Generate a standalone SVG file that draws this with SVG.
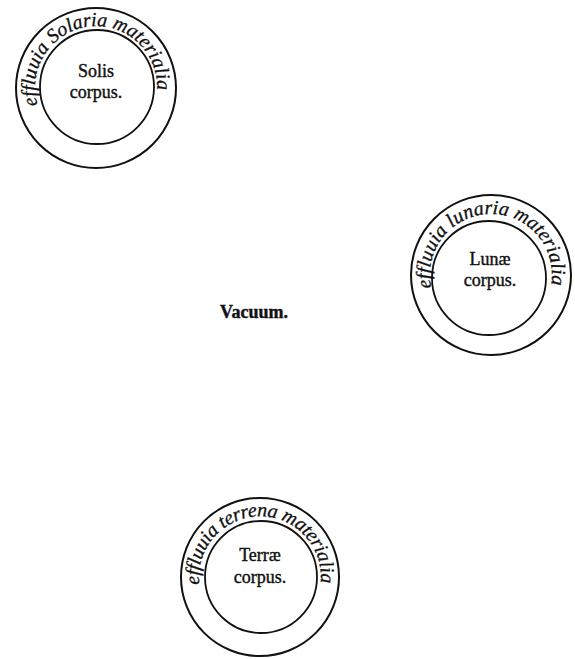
<svg xmlns="http://www.w3.org/2000/svg" width="575" height="659" viewBox="0 0 575 659">
<style>
.ring{fill:none;stroke:#111;stroke-width:2}
.core{fill:none;stroke:#111;stroke-width:1.8}
.lbl{font-family:"Liberation Serif","DejaVu Serif","Times New Roman",serif;font-size:18px;fill:#111;stroke:#111;stroke-width:0.4;text-anchor:middle}
.arc{font-family:"Liberation Serif","DejaVu Serif","Times New Roman",serif;font-style:italic;font-size:20px;fill:#111;stroke:#111;stroke-width:0.3}
</style>
<defs>
<path id="pSol" d="M 37.7 104.8 A 61 61 0 1 1 156.4 96.5"/>
<path id="pLun" d="M 431.3 287.7 A 61 61 0 1 1 550.4 288.7"/>
<path id="pTer" d="M 199.4 584.4 A 61 61 0 1 1 320.6 584.4"/>
</defs>
<rect width="575" height="659" fill="#fff"/>
<g id="sol">
<circle class="ring" cx="96" cy="88" r="80"/>
<circle class="core" cx="97" cy="87" r="57"/>
<text class="arc"><textPath href="#pSol" textLength="212" lengthAdjust="spacing">effluuia Solaria materialia</textPath></text>
<text class="lbl" x="96" y="77">Solis</text>
<text class="lbl" x="96" y="98">corpus.</text>
</g>
<g id="luna">
<circle class="ring" cx="491" cy="275" r="80"/>
<circle class="core" cx="489" cy="278" r="57"/>
<text class="arc"><textPath href="#pLun" textLength="214" lengthAdjust="spacing">effluuia lunaria materialia</textPath></text>
<text class="lbl" x="490" y="265">Lunæ</text>
<text class="lbl" x="490" y="286">corpus.</text>
</g>
<g id="terra">
<circle class="ring" cx="260" cy="577" r="79"/>
<circle class="core" cx="261" cy="577" r="56"/>
<text class="arc"><textPath href="#pTer" textLength="204" lengthAdjust="spacing">effluuia terrena materialia</textPath></text>
<text class="lbl" x="260" y="561">Terræ</text>
<text class="lbl" x="260" y="583">corpus.</text>
</g>
<g id="vacuum">
<text class="lbl" x="254" y="318" font-weight="bold">Vacuum.</text>
</g>
<g id="connectors"/>
</svg>
